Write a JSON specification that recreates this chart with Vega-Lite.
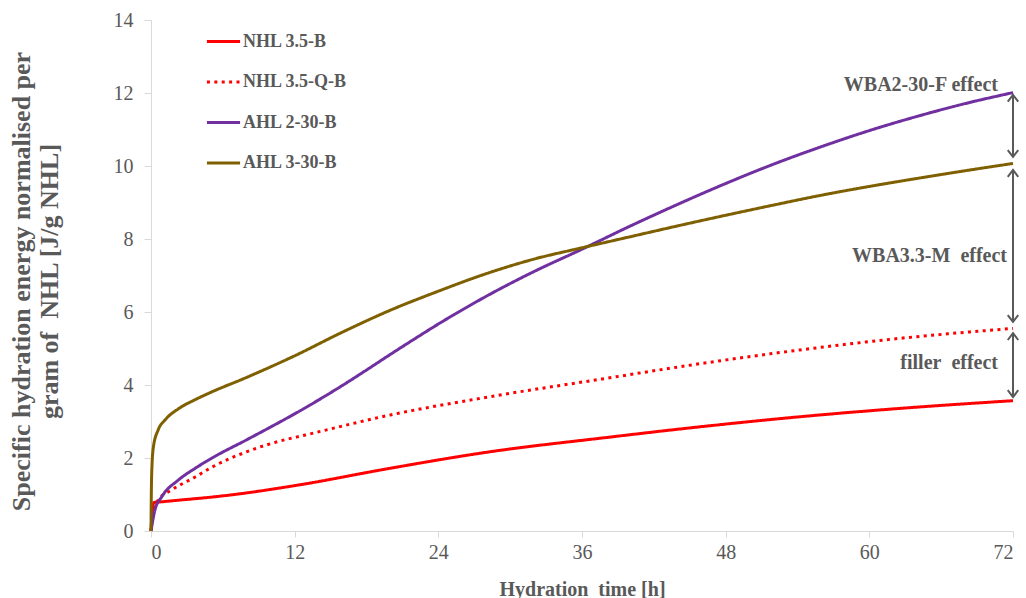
{
  "$schema": "https://vega.github.io/schema/vega-lite/v6.json",
  "width": 862,
  "height": 511,
  "autosize": "none",
  "padding": {"left": 151, "top": 20, "right": 13, "bottom": 67},
  "background": "white",
  "config": {"view": {"stroke": null}, "font": "Liberation Serif"},
  "datasets": {
    "curves": [
      {"series": "NHL 3.5-B", "t": 0, "v": 0},
      {"series": "NHL 3.5-B", "t": 0.1, "v": 0.5},
      {"series": "NHL 3.5-B", "t": 0.25, "v": 0.78},
      {"series": "NHL 3.5-B", "t": 0.9, "v": 0.8},
      {"series": "NHL 3.5-B", "t": 2.5, "v": 0.85},
      {"series": "NHL 3.5-B", "t": 5.1, "v": 0.93},
      {"series": "NHL 3.5-B", "t": 7.9, "v": 1.04},
      {"series": "NHL 3.5-B", "t": 10.6, "v": 1.17},
      {"series": "NHL 3.5-B", "t": 12.5, "v": 1.27},
      {"series": "NHL 3.5-B", "t": 20, "v": 1.72},
      {"series": "NHL 3.5-B", "t": 28.3, "v": 2.17},
      {"series": "NHL 3.5-B", "t": 38, "v": 2.56},
      {"series": "NHL 3.5-B", "t": 46, "v": 2.86},
      {"series": "NHL 3.5-B", "t": 54.2, "v": 3.13},
      {"series": "NHL 3.5-B", "t": 62.6, "v": 3.36},
      {"series": "NHL 3.5-B", "t": 72, "v": 3.57},
      {"series": "NHL 3.5-Q-B", "t": 0, "v": 0},
      {"series": "NHL 3.5-Q-B", "t": 0.15, "v": 0.5},
      {"series": "NHL 3.5-Q-B", "t": 0.6, "v": 0.85},
      {"series": "NHL 3.5-Q-B", "t": 1.7, "v": 1.12},
      {"series": "NHL 3.5-Q-B", "t": 3.7, "v": 1.48},
      {"series": "NHL 3.5-Q-B", "t": 5.1, "v": 1.75},
      {"series": "NHL 3.5-Q-B", "t": 7.9, "v": 2.16},
      {"series": "NHL 3.5-Q-B", "t": 10.6, "v": 2.45},
      {"series": "NHL 3.5-Q-B", "t": 12.9, "v": 2.63},
      {"series": "NHL 3.5-Q-B", "t": 20, "v": 3.18},
      {"series": "NHL 3.5-Q-B", "t": 28.3, "v": 3.68},
      {"series": "NHL 3.5-Q-B", "t": 37, "v": 4.13},
      {"series": "NHL 3.5-Q-B", "t": 46, "v": 4.59},
      {"series": "NHL 3.5-Q-B", "t": 54.2, "v": 4.96},
      {"series": "NHL 3.5-Q-B", "t": 62.6, "v": 5.28},
      {"series": "NHL 3.5-Q-B", "t": 72, "v": 5.55},
      {"series": "AHL 2-30-B", "t": 0, "v": 0},
      {"series": "AHL 2-30-B", "t": 0.33, "v": 0.58},
      {"series": "AHL 2-30-B", "t": 0.9, "v": 0.94},
      {"series": "AHL 2-30-B", "t": 2.3, "v": 1.4},
      {"series": "AHL 2-30-B", "t": 3.7, "v": 1.72},
      {"series": "AHL 2-30-B", "t": 5.1, "v": 2.0},
      {"series": "AHL 2-30-B", "t": 8, "v": 2.5},
      {"series": "AHL 2-30-B", "t": 10, "v": 2.85},
      {"series": "AHL 2-30-B", "t": 12, "v": 3.21},
      {"series": "AHL 2-30-B", "t": 14, "v": 3.59},
      {"series": "AHL 2-30-B", "t": 16, "v": 3.99},
      {"series": "AHL 2-30-B", "t": 18, "v": 4.41},
      {"series": "AHL 2-30-B", "t": 20, "v": 4.84},
      {"series": "AHL 2-30-B", "t": 22, "v": 5.26},
      {"series": "AHL 2-30-B", "t": 24, "v": 5.67},
      {"series": "AHL 2-30-B", "t": 28, "v": 6.43},
      {"series": "AHL 2-30-B", "t": 32, "v": 7.11},
      {"series": "AHL 2-30-B", "t": 36, "v": 7.72},
      {"series": "AHL 2-30-B", "t": 40, "v": 8.35},
      {"series": "AHL 2-30-B", "t": 44, "v": 8.95},
      {"series": "AHL 2-30-B", "t": 48, "v": 9.52},
      {"series": "AHL 2-30-B", "t": 52, "v": 10.05},
      {"series": "AHL 2-30-B", "t": 56, "v": 10.53},
      {"series": "AHL 2-30-B", "t": 60, "v": 10.97},
      {"series": "AHL 2-30-B", "t": 64, "v": 11.36},
      {"series": "AHL 2-30-B", "t": 68, "v": 11.71},
      {"series": "AHL 2-30-B", "t": 72, "v": 12.01},
      {"series": "AHL 3-30-B", "t": 0, "v": 0},
      {"series": "AHL 3-30-B", "t": 0.02, "v": 0.8},
      {"series": "AHL 3-30-B", "t": 0.06, "v": 1.6},
      {"series": "AHL 3-30-B", "t": 0.2, "v": 2.3},
      {"series": "AHL 3-30-B", "t": 0.6, "v": 2.77},
      {"series": "AHL 3-30-B", "t": 1.17, "v": 3.04},
      {"series": "AHL 3-30-B", "t": 2.3, "v": 3.35},
      {"series": "AHL 3-30-B", "t": 3.7, "v": 3.6},
      {"series": "AHL 3-30-B", "t": 5, "v": 3.8},
      {"series": "AHL 3-30-B", "t": 8, "v": 4.21},
      {"series": "AHL 3-30-B", "t": 12, "v": 4.8},
      {"series": "AHL 3-30-B", "t": 16, "v": 5.45},
      {"series": "AHL 3-30-B", "t": 20, "v": 6.05},
      {"series": "AHL 3-30-B", "t": 24, "v": 6.57},
      {"series": "AHL 3-30-B", "t": 28, "v": 7.05},
      {"series": "AHL 3-30-B", "t": 32, "v": 7.45},
      {"series": "AHL 3-30-B", "t": 36, "v": 7.76},
      {"series": "AHL 3-30-B", "t": 40, "v": 8.06},
      {"series": "AHL 3-30-B", "t": 44, "v": 8.36},
      {"series": "AHL 3-30-B", "t": 48, "v": 8.65},
      {"series": "AHL 3-30-B", "t": 52, "v": 8.93},
      {"series": "AHL 3-30-B", "t": 56, "v": 9.2},
      {"series": "AHL 3-30-B", "t": 60, "v": 9.44},
      {"series": "AHL 3-30-B", "t": 64, "v": 9.66},
      {"series": "AHL 3-30-B", "t": 68, "v": 9.87},
      {"series": "AHL 3-30-B", "t": 72, "v": 10.07}
    ],
    "arrows": [
      {"t": 72, "top": 11.95, "bottom": 10.25},
      {"t": 72, "top": 9.89, "bottom": 5.73},
      {"t": 72, "top": 5.42, "bottom": 3.67}
    ],
    "notes": [
      {"t": 70.75, "v": 12.22, "label": "WBA2-30-F effect"},
      {"t": 71.5, "v": 7.53, "label": "WBA3.3-M\u00a0 effect"},
      {"t": 70.75, "v": 4.6, "label": "filler\u00a0 effect"}
    ]
  },
  "layer": [
    {
      "data": {"name": "curves"},
      "mark": {"type": "line", "interpolate": "monotone", "strokeWidth": 3},
      "encoding": {
        "x": {
          "field": "t", "type": "quantitative",
          "scale": {"domain": [0, 72], "nice": false, "zero": false},
          "axis": {
            "values": [0, 12, 24, 36, 48, 60, 72],
            "grid": false,
            "domainColor": "#d9d9d9", "tickColor": "#d9d9d9", "tickSize": 6,
            "labelFont": "Liberation Serif", "labelFontSize": 20, "labelColor": "#595959", "labelPadding": 5,
            "title": "Hydration\u00a0 time [h]",
            "titleFont": "Liberation Serif", "titleFontSize": 20, "titleFontWeight": "bold", "titleColor": "#595959",
            "titleX": 431, "titleY": 58, "titleBaseline": "middle", "titleAnchor": "middle"
          }
        },
        "y": {
          "field": "v", "type": "quantitative",
          "scale": {"domain": [0, 14], "nice": false},
          "axis": {
            "values": [0, 2, 4, 6, 8, 10, 12, 14],
            "grid": false,
            "domainColor": "#d9d9d9", "tickColor": "#d9d9d9", "tickSize": 7,
            "labelFont": "Liberation Serif", "labelFontSize": 20, "labelColor": "#595959", "labelPadding": 11,
            "title": ["Specific hydration energy normalised per", "gram of\u00a0 NHL [J/g NHL]"],
            "titleFont": "Liberation Serif", "titleFontSize": 26, "titleFontWeight": "bold", "titleColor": "#595959",
            "titleLineHeight": 28.5, "titleAngle": -90, "titleAlign": "center", "titleBaseline": "alphabetic",
            "titleX": -122, "titleY": 261
          }
        },
        "color": {
          "field": "series", "type": "nominal",
          "scale": {
            "domain": ["NHL 3.5-B", "NHL 3.5-Q-B", "AHL 2-30-B", "AHL 3-30-B"],
            "range": ["#ff0000", "#ff0000", "#7030a0", "#7f6000"]
          },
          "legend": {
            "title": null, "orient": "none", "legendX": 54, "legendY": 3,
            "symbolType": "stroke", "symbolSize": 1100, "symbolStrokeWidth": 3,
            "labelFont": "Liberation Serif", "labelFontSize": 18, "labelFontWeight": "bold", "labelColor": "#595959",
            "labelOffset": 1, "rowPadding": 12.5
          }
        },
        "strokeDash": {
          "field": "series", "type": "nominal",
          "scale": {
            "domain": ["NHL 3.5-B", "NHL 3.5-Q-B", "AHL 2-30-B", "AHL 3-30-B"],
            "range": [[1, 0], [3, 4.4], [1, 0], [1, 0]]
          },
          "legend": {
            "title": null, "orient": "none", "legendX": 54, "legendY": 3,
            "symbolType": "stroke", "symbolSize": 1100, "symbolStrokeWidth": 3,
            "labelFont": "Liberation Serif", "labelFontSize": 18, "labelFontWeight": "bold", "labelColor": "#595959",
            "labelOffset": 1, "rowPadding": 12.5
          }
        }
      }
    },
    {
      "data": {"name": "arrows"},
      "mark": {"type": "rule", "color": "#595959", "strokeWidth": 2},
      "encoding": {
        "x": {"field": "t", "type": "quantitative"},
        "y": {"field": "top", "type": "quantitative"},
        "y2": {"field": "bottom"}
      }
    },
    {
      "data": {"name": "arrows"},
      "mark": {"type": "point", "shape": "M-1,1.3L0,0L1,1.3", "filled": false, "stroke": "#595959", "strokeWidth": 2, "size": 110, "opacity": 1},
      "encoding": {
        "x": {"field": "t", "type": "quantitative"},
        "y": {"field": "top", "type": "quantitative"}
      }
    },
    {
      "data": {"name": "arrows"},
      "mark": {"type": "point", "shape": "M-1,-1.3L0,0L1,-1.3", "filled": false, "stroke": "#595959", "strokeWidth": 2, "size": 110, "opacity": 1},
      "encoding": {
        "x": {"field": "t", "type": "quantitative"},
        "y": {"field": "bottom", "type": "quantitative"}
      }
    },
    {
      "data": {"name": "notes"},
      "mark": {"type": "text", "align": "right", "baseline": "middle", "font": "Liberation Serif", "fontSize": 20, "fontWeight": "bold", "color": "#595959"},
      "encoding": {
        "x": {"field": "t", "type": "quantitative"},
        "y": {"field": "v", "type": "quantitative"},
        "text": {"field": "label"}
      }
    }
  ]
}
